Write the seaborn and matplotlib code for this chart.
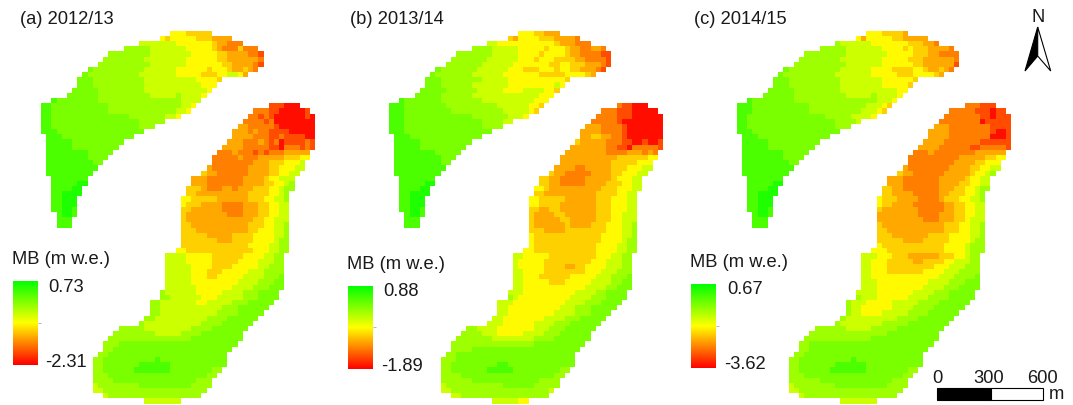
import numpy as np
import matplotlib
matplotlib.use("Agg")
import matplotlib.pyplot as plt
from matplotlib.colors import LinearSegmentedColormap
from matplotlib.patches import Polygon, Rectangle
import seaborn as sns

W, H = 1073, 406
YEARS = ["(a) 2012/13", "(b) 2013/14", "(c) 2014/15"]
MB_MAX = [0.73, 0.88, 0.67]
MB_MIN = [-2.31, -1.89, -3.62]

# glacier outlines: (first column, end column) for each raster row
UPPER_SPANS = [(25,33),(23,37),(19,39),(16,42),(13,43),(12,43),(11,43),(9,42),(8,40),(7,35),(7,34),(6,33),(5,32),
               (2,31),(0,30),(0,29),(0,27),(0,24),(0,22),(0,20),(1,18),(1,16),(1,15),(1,14),(1,13),(1,12),(1,11),
               (1,10),(2,9),(2,9),(2,8),(2,8),(2,7),(2,7),(2,7),(3,7),(3,6),(3,6)]
LOWER_SPANS = [(44,50),(41,52),(40,53),(39,53),(38,53),(37,53),(37,53),(36,53),(35,53),(34,52),(33,52),(33,51),
               (32,51),(31,50),(29,49),(29,49),(28,49),(28,48),(27,48),(27,48),(27,48),(27,48),(27,48),(27,48),
               (27,48),(27,48),(27,48),(27,48),(26,48),(24,47),(24,47),(24,47),(24,47),(24,47),(24,47),(24,47),
               (23,46),(23,46),(21,45),(21,44),(21,43),(20,42),(19,41),(15,40),(14,39),(13,39),(12,38),(12,37),
               (11,36),(10,36),(10,36),(10,35),(10,34),(10,33),(10,33),(10,32),(12,31),(20,27)]

# MB classes per row, from 0 (red) through 5 (yellow) to A (green)
UPPER_A = ["55544444","54555554443333","6666666555555554332223","77777666666655555432224222",
 "777777776666666665555544333 32210","77777777666666666555555443333 3320","7777777777666666665555555443333210",
 "8777777777766666665555554555433 4321","877777777777666666665555544445566533","8887777777777766666666666555544",
 "888777777777776666666666665554","8888877777777777666666666666655","888888777777777776666667666655",
 "9888888887777777777777777766665","998888888888877777777777777665","99888888888887777777777777665",
 "998888888888888887777777665","998888888888888888877777","9988888888888888888777","99988888888888888888",
 "99988888888888888","999998888888888","99999888888888","9999999988888","999999998888","99999999988",
 "9999999999","999999999","9999999","99999AA","9999AA","99AAAA","99AAA","99AAA","99AA9","9AA9","999","999"]
LOWER_A = ["111000","22211000001","2212100000010","22221200000000","332222210000000","3332322111100000",
 "3333222112111100","33322232120111121","333322222110222121","222322212122233333","2222232223333344455",
 "222222223334445556","3222222233334455566","4332222223333445566","33322222223333455666","3322222223333445 567",
 "444322233233344455677","44333333333344445567","554444433333344455667",
 "544433332222333445566","443333332222333445566","433333333222333445566","433333333333334455666",
 "443333333333344455667","444333333333344555667","444443333344445555667","444444433344445555677",
 "444444444444455556677","5544444444444445556677",
 "66665555544444455556677","66665555544444555566677","66666555544445555566777","66666555444555556667777",
 "66666555445555566667778","66666555555555666677788","66666655555556666777888","76666665555566667778888",
 "77666666555666667778888","776666666556666677788888","77666666666666777888888","7766666666666777788888",
 "7766666666667777888888","7666666666667777888888","7777766666666677778888888","7777777766666777788888888",
 "77777777777777778888888888","77788888888888888888888888","7788888888888888888888888","7788888888888888888888888",
 "77888888888898888888888888","77888888899999988888888888","7788888899999998888888877","777888888888888888888877",
 "77778888888888888888777","67777777788888888887777","6677777777777777777777","6777777777777777777","6666666"]

UPPER_B = ["55544333","43555544433332","6655555555555543332222","77776666665555545555433 2233 22",
 "777777766666655554555554332222110","777777766666655554555444433222210","7777777666666555555544554443 33210",
 "8777777766666655544445554554433 3210","87777777766666655555555444444555 5433","8887777777766666655555555555 44",
 "8887777777666666655555555556 54","8888877777766666655556666554 4","88888777777666666666666665554",
 "988888887777777766666666665555","99888888887777777777666666554","9988888888877777777776666654",
 "9988888888888877777776665","9988888888888888777766","9998888888888888887777","99988888888888888888",
 "99988888888888888","999998888888888","99999888888888","9999999988888","999999999888","99999999988",
 "9999999999","999999999","9999999","99999AA","9999AA","99AAAA","99AAA","99AAA","99AA9","9AA9","999","999"]
LOWER_B = ["211000","22211100000","2222111000000","22222100000000","333222210000000","3333222210000000",
 "3344332210000000","43333322211001001","333333322110222221","333333332222333232","3333333333344444455",
 "333333333344444555","3333223333344455566","4332222233334455566","44332222233333455566","4332222233334445566",
 "554333333333344455566","44333333333344445566","554444433333344455566",
 "554444333333344455566","443344333333344455566","433334433333344455666","433333443333344455666",
 "433333343333444555667","444333344444444555667","544444444444445555667","544444444444445555677",
 "544444444444455556677","5544444444444455556677",
 "66555554444444445556677","65555544444444455566677","65555544443344555566677","66555544444444555666777",
 "66555444444555556667778","66555554445555566667788","66555555555555666677888","66655555555556666778888",
 "76555555555566667778888","666555555555566667778888","66555555555566677788888","6655555555566667778888",
 "6655555555666677788888","6665555556666777888888","7766665555555666777888888","7777666555556666777888888",
 "77777776666666677778888888","77777777777777778888888888","7777888888888888888888888","7788888888888888888888888",
 "77788888888888888888888888","77888888888998888888888888","7788888889999988888888877","777788888888888888888877",
 "77777788888888888887777","67777777777788888877777","6677777777777777777776","6677777777777777777","6666655"]

UPPER_C = ["55544443","53555554433333","7666666555555554443322","777776666666555554544433 3322",
 "777777776666666665555554443322220","777777776666666665555544433333 320","7777777777666666665555554433333 310",
 "8777777777766666665555444455433 4321","877777777777666666665555544445555433","8887777777777766666666655555544",
 "888777777777776666666665555544","8888877777777777666666666666554","888888777777777776666667666654",
 "9888888887777777777777777766654","99888888888887777777777766654","9988888888888777777777766654",
 "998888888888888887777766665","998888888888888888877776","9988888888888888888777","99988888888888888888",
 "99988888888888888","999998888888888","99999888888888","9999999988888","999999998888","99999999988",
 "9999999999","999999999","9999999","99999AA","9999AA","99AAAA","99AAA","99AAA","99AA9","9AA9","999","999"]
LOWER_C = ["222111","22222111011","2222222110111","22222222011111","333222222221111","3333222222221001",
 "3333222222220001","33332222222111111","333322222211222221","2223222222223333333","2222222222333334455",
 "222222222333344555","3222222223333445566","4332222223333345567","33322222223333345566","3322222223333445566",
 "443322222223334455677","44333322222334445567","544433332222344455667",
 "544333322222233445566","433333332222233445566","333333332222333445566","333333333222333445666",
 "433333333333344455667","443333333333344455667","444333333344445555667","444443333444445555677",
 "544444444444455556777","5554444444444455556777",
 "66655544433333344455677","66555444443344445566677","66555444444444555666777","66555444444455556667777",
 "66555555555555566677778","66655555555556666777888","66655555555566667778888","66665555555666677788888",
 "76665555556666777788888","766655555666667777888888","76655555566667777888888","7665555666667777888888",
 "7666666666677778888888","7666666667777788888888","7777776666677777888888888","7777777777777778888888888",
 "77777777777778888888888888","77888888888888888888888888","7788888888888888888888888","7788888888888888888888888",
 "77888888888898888888888888","77888888899999988888888888","7788888899999998888888877","777888888888888888888877",
 "77777788888888888888777","67777777788888888887777","6677777777777777777777","6777777777777777777","6666666"]

PANEL_ROWS = [(UPPER_A, LOWER_A), (UPPER_B, LOWER_B), (UPPER_C, LOWER_C)]
N_ROWS, N_COLS = 72, 53
CELL_W, CELL_H = 5.175, 5.18
GRID_LEFT = [41.0, 388.8, 736.9]
GRID_TOP = 31.7
CBAR_BOX = [(12.7, 281.7, 25.6, 84), (348.3, 286.7, 25, 83.3), (691, 285, 25, 84)]
LABEL_MB = [(12, 260), (347, 265), (690, 263)]
LABEL_HI = [(48, 288), (383, 292), (727, 290)]
LABEL_LO = [(45, 363), (381, 367), (724, 365)]
TITLE_X = [20, 350, 694]

# position of each class on the colour ramp (share of the MB range)
CLASSES = "0123456789A"
CLASS_SHARE = [0.03, 0.15, 0.25, 0.33, 0.41, 0.49, 0.60, 0.69, 0.76, 0.85, 0.94]

sns.set_theme(style="white")
plt.rcParams["font.family"] = ["Liberation Sans", "DejaVu Sans"]
cmap = LinearSegmentedColormap.from_list("mb", ["#ff0000", "#ffff00", "#00ff00"])
FS = 13.2
TXT = "#1a1a1a"

def fill(grid, rows, spans, row0, lo, hi):
    for r, (text, (c0, c1)) in enumerate(zip(rows, spans)):
        s = text.replace(" ", "")
        n = c1 - c0
        for i in range(n):
            k = CLASSES.index(s[i * len(s) // n])
            grid[row0 + r, c0 + i] = lo + CLASS_SHARE[k] * (hi - lo)

def box(x, y, w, h):
    return [x / W, 1 - (y + h) / H, w / W, h / H]

fig = plt.figure(figsize=(W / 100, H / 100), dpi=100, facecolor="white")

for p in range(3):
    grid = np.full((N_ROWS, N_COLS), np.nan)
    fill(grid, PANEL_ROWS[p][0], UPPER_SPANS, 0, MB_MIN[p], MB_MAX[p])
    fill(grid, PANEL_ROWS[p][1], LOWER_SPANS, 14, MB_MIN[p], MB_MAX[p])
    ax = fig.add_axes(box(GRID_LEFT[p], GRID_TOP, N_COLS * CELL_W, N_ROWS * CELL_H))
    cax = fig.add_axes(box(*CBAR_BOX[p]))
    sns.heatmap(grid, ax=ax, cmap=cmap, vmin=MB_MIN[p], vmax=MB_MAX[p], cbar=True, cbar_ax=cax,
                xticklabels=False, yticklabels=False, linewidths=0, rasterized=True)
    cb = ax.collections[0].colorbar
    cb.outline.set_visible(False)
    cb.set_ticks([(MB_MIN[p] + MB_MAX[p]) / 2], labels=[""])
    cax.tick_params(axis="y", length=2, width=0.6, color="#aaaaaa", right=True, left=False)

over = fig.add_axes([0, 0, 1, 1], facecolor="none")
over.set_xlim(0, W)
over.set_ylim(H, 0)
over.axis("off")

for p in range(3):
    over.text(TITLE_X[p], 20, YEARS[p], fontsize=FS, color=TXT, va="center", ha="left")
    over.text(*LABEL_MB[p], "MB (m w.e.)", fontsize=FS, color=TXT, va="center", ha="left")
    over.text(*LABEL_HI[p], f"{MB_MAX[p]:.2f}", fontsize=FS, color=TXT, va="center", ha="left")
    over.text(*LABEL_LO[p], f"{MB_MIN[p]:.2f}", fontsize=FS, color=TXT, va="center", ha="left")

# north arrow
over.text(1037.7, 17, "N", fontsize=FS, color=TXT, va="center", ha="center")
over.add_patch(Polygon([(1037.7, 28), (1025, 72), (1037.7, 57)], closed=True, fc="black", ec="black", lw=0.8))
over.add_patch(Polygon([(1037.7, 28), (1050.7, 72), (1037.7, 57)], closed=True, fc="white", ec="black", lw=0.8))

# scale bar
over.add_patch(Rectangle((936.7, 389.3), 54, 11.4, fc="black", ec="black", lw=0.8))
over.add_patch(Rectangle((990.7, 389.3), 52, 11.4, fc="white", ec="black", lw=0.8))
for x, s in [(937, "0"), (989, "300"), (1042.7, "600")]:
    over.text(x, 379, s, fontsize=FS, color=TXT, va="center", ha="center")
over.text(1049, 395, "m", fontsize=FS, color=TXT, va="center", ha="left")

fig.savefig("out.png", dpi=100, facecolor="white")
